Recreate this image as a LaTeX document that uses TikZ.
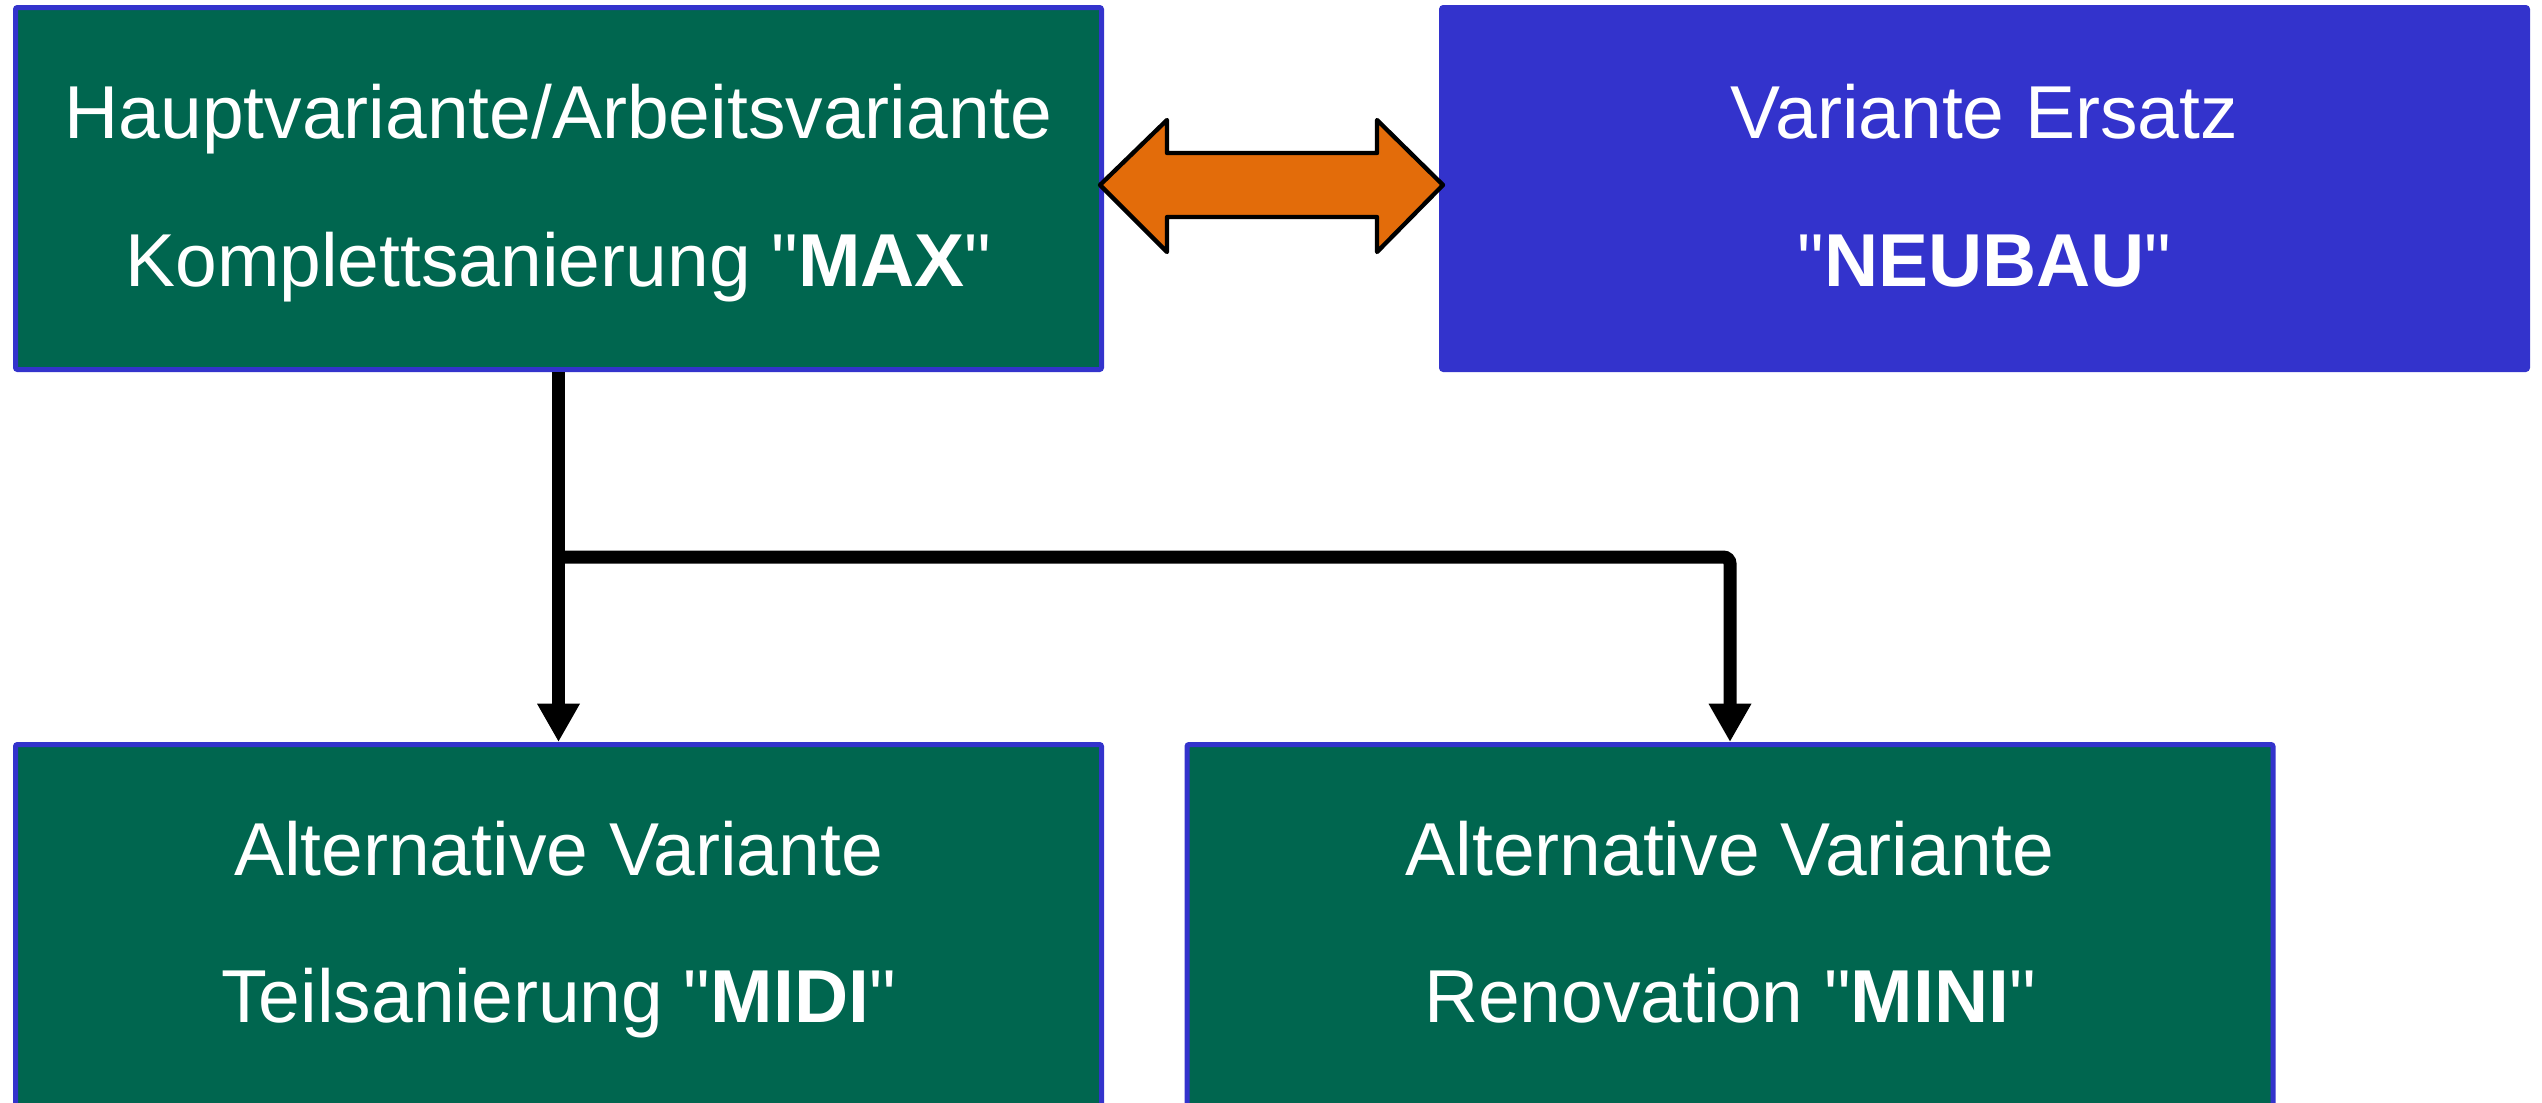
\documentclass[tikz,border=0pt]{standalone}
\usepackage{fontspec}
\setmainfont{Liberation Sans}[Ligatures=TeXOff]
\usetikzlibrary{arrows.meta}
\definecolor{boxgreen}{RGB}{0,102,79}
\definecolor{boxblue}{RGB}{51,51,204}
\definecolor{arroworange}{RGB}{227,108,10}
\tikzset{
  box/.style={draw=boxblue, line width=1.5pt, rectangle, inner sep=0pt,
    minimum width=325.8pt, minimum height=108.6pt, rounded corners=0.6pt},
  greenbox/.style={box, fill=boxgreen},
  bluebox/.style={box, fill=boxblue},
  txt/.style={anchor=base, text=white, inner sep=0pt, font=\fontsize{22.5pt}{27pt}\selectfont},
  conn/.style={line width=3.9pt, draw=black, rounded corners=2pt,
    -{Triangle[width=12pt,length=11.5pt]}},
  dblarrow/.style={fill=arroworange, draw=black, line width=1.3pt, line join=round}
}
\begin{document}
\begin{tikzpicture}[x=0.3pt, y=-0.3pt]
\useasboundingbox (0,0) rectangle (2542,1102);
% boxes
\node[greenbox] (b1) at (558.5,188.5) {};
\node[bluebox]  (b2) at (1984.5,188.5) {};
\node[greenbox] (b3) at (558.5,925.5) {};
\node[greenbox] (b4) at (1730,925.5) {};
% texts
\node[txt] (t1a) at (558.5,138) {Hauptvariante/Arbeitsvariante};
\node[txt] (t1b) at (558.5,286) {Komplettsanierung "\textbf{MAX}"};
\node[txt] (t2a) at (1984.5,138) {Variante Ersatz};
\node[txt] (t2b) at (1984.5,286) {"\textbf{NEUBAU}"};
\node[txt] (t3a) at (558.5,875) {Alternative Variante};
\node[txt] (t3b) at (558.5,1022) {Teilsanierung "\textbf{MIDI}"};
\node[txt] (t4a) at (1730,875) {Alternative Variante};
\node[txt] (t4b) at (1730,1022) {Renovation "\textbf{MINI}"};
% connectors
\coordinate (split) at (558.5,557);
\draw[conn] (b1.south) -- (b3.north);
\draw[conn] (split) -| (b4.north);
% double arrow between b1 and b2
\draw[dblarrow] (1100,185) -- (1167,120) -- (1167,153) -- (1377,153) -- (1377,120)
  -- (1443,185) -- (1377,252) -- (1377,217) -- (1167,217) -- (1167,252) -- cycle;
\end{tikzpicture}
\end{document}
